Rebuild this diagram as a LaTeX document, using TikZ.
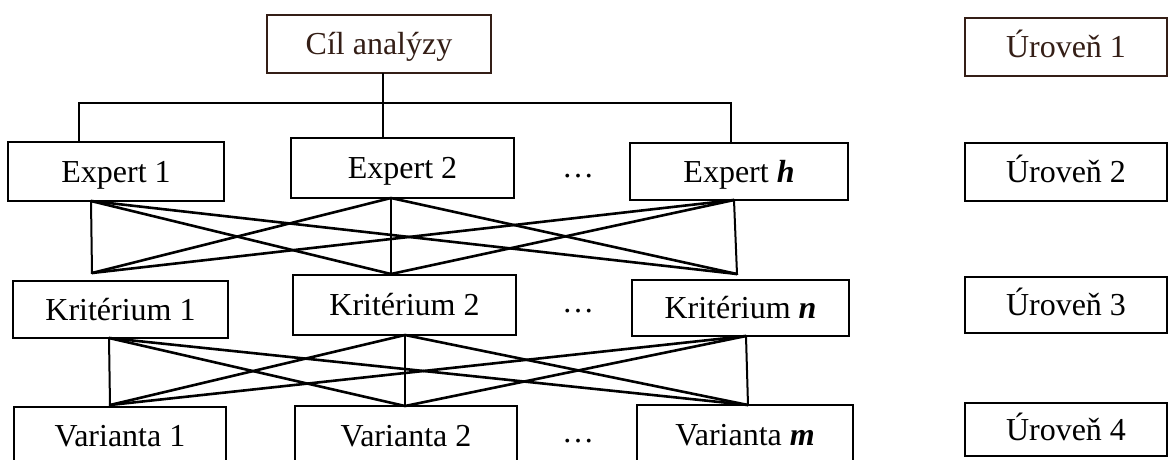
\documentclass[tikz,border=0pt]{standalone}
\usepackage{fontspec}
\setmainfont{Liberation Serif}
\definecolor{brn}{RGB}{52,30,22}
\begin{document}
\begin{tikzpicture}[x=1pt,y=-1pt,
  box/.style={draw, line width=2.3pt, inner sep=0pt, outer sep=0pt,
    font=\fontsize{32}{38}\selectfont, text height=24pt, text depth=3pt},
  dotsnode/.style={inner sep=0pt, font=\fontsize{32}{38}\selectfont},
  cross/.style={line width=2.6pt, line cap=round},
  vert/.style={line width=2pt}]
\useasboundingbox (0,0) rectangle (1168,459);
\clip (0,0) rectangle (1168,459);
\fill[white] (0,0) rectangle (1168,459);

% level 1
\node[box, draw=brn, text=brn, minimum width=224pt, minimum height=58pt] (cil) at (379,44) {Cíl analýzy};
% level 2
\node[box, minimum width=216pt, minimum height=59pt] (e1) at (116,171.5) {Expert 1};
\node[box, minimum width=223pt, minimum height=60pt] (e2) at (402.5,168) {Expert 2};
\node[box, minimum width=218pt, minimum height=57pt] (eh) at (739,171.5) {Expert \textbf{\textit{h}}};
% level 3
\node[box, minimum width=215pt, minimum height=57pt] (k1) at (120.5,309.5) {Kritérium 1};
\node[box, minimum width=223pt, minimum height=60pt] (k2) at (404.5,305) {Kritérium 2};
\node[box, minimum width=217pt, minimum height=56pt] (kn) at (740.5,308) {Kritérium \textbf{\textit{n}}};
% level 4
\node[box, minimum width=212pt, minimum height=58pt] (v1) at (120,436) {Varianta 1};
\node[box, minimum width=222pt, minimum height=60pt] (v2) at (406,436) {Varianta 2};
\node[box, minimum width=216pt, minimum height=60pt] (vm) at (745,435) {Varianta \textbf{\textit{m}}};
% dots
\node[dotsnode] (d1) at (578,176) {…};
\node[dotsnode] (d2) at (578,311) {…};
\node[dotsnode] (d3) at (578,441) {…};
% level labels
\node[box, draw=brn, text=brn, minimum width=202pt, minimum height=58pt] (u1) at (1066,47) {Úroveň 1};
\node[box, minimum width=202pt, minimum height=58pt] (u2) at (1066,172) {Úroveň 2};
\node[box, minimum width=202pt, minimum height=56pt] (u3) at (1066,305) {Úroveň 3};
\node[box, minimum width=202pt, minimum height=53pt] (u4) at (1066,429.5) {Úroveň 4};

% connection points
\coordinate (cb)  at ([xshift=4pt]cil.south);
\coordinate (e1t) at ([xshift=-37pt]e1.north);
\coordinate (e2t) at ([xshift=-19.5pt]e2.north);
\coordinate (eht) at ([xshift=-8pt]eh.north);
\coordinate (bar) at (0,103);

\coordinate (e1b) at ([xshift=-25pt]e1.south);
\coordinate (e2b) at ([xshift=-11.5pt]e2.south);
\coordinate (ehb) at ([xshift=-5pt]eh.south);
\coordinate (k1t) at ([xshift=-28.5pt,yshift=8pt]k1.north);
\coordinate (k2t) at ([xshift=-13.5pt,yshift=1pt]k2.north);
\coordinate (knt) at ([xshift=-3.5pt,yshift=6pt]kn.north);

\coordinate (k1b) at ([xshift=-11.5pt]k1.south);
\coordinate (k2b) at ([xshift=0.5pt]k2.south);
\coordinate (knb) at ([xshift=5.5pt]kn.south);
\coordinate (v1t) at ([xshift=-10pt,yshift=2pt]v1.north);
\coordinate (v2t) at ([xshift=-1pt]v2.north);
\coordinate (vmt) at ([xshift=3pt]vm.north);

% level 1 -> 2
\draw[vert] (cb) -- (e2t);
\draw[vert] (e1t) -- (e1t |- bar) -- (eht |- bar) -- (eht);

% level 2 -> 3
\draw[vert] (e1b) -- (k1t);
\draw[vert] (e2b) -- (k2t);
\draw[vert] (ehb) -- (knt);
\draw[cross] (e1b) -- (k2t);
\draw[cross] (e1b) -- (knt);
\draw[cross] (e2b) -- (k1t);
\draw[cross] (e2b) -- (knt);
\draw[cross] (ehb) -- (k1t);
\draw[cross] (ehb) -- (k2t);

% level 3 -> 4
\draw[vert] (k1b) -- (v1t);
\draw[vert] (k2b) -- (v2t);
\draw[vert] (knb) -- (vmt);
\draw[cross] (k1b) -- (v2t);
\draw[cross] (k1b) -- (vmt);
\draw[cross] (k2b) -- (v1t);
\draw[cross] (k2b) -- (vmt);
\draw[cross] (knb) -- (v1t);
\draw[cross] (knb) -- (v2t);
\end{tikzpicture}
\end{document}
